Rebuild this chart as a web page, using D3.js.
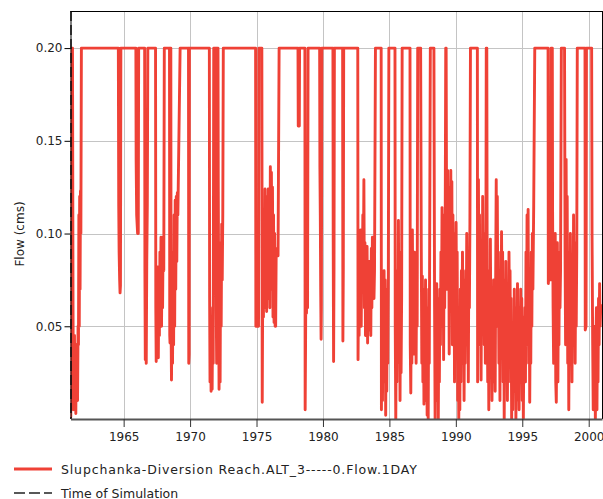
<!DOCTYPE html>
<html><head><meta charset="utf-8">
<script src="https://cdn.jsdelivr.net/npm/d3@7"></script>
<style>body{margin:0;background:#fff}svg{display:block}</style>
</head><body>
<svg id="c" width="603" height="499"></svg>
<script>
// ---- data (decimal year, flow in cms) ----
const xTicks = [1965,1970,1975,1980,1985,1990,1995,2000];
const yTicks = [0.05,0.10,0.15,0.20];
const simulationTime = 1961.0;
const seriesName = "Slupchanka-Diversion Reach.ALT_3-----0.Flow.1DAY";
const simName = "Time of Simulation";
const yLabel = "Flow (cms)";

const flow1960s = [
[1961.00,0.100],[1961.02,0.001],[1961.05,0.095],[1961.10,0.200],[1961.15,0.200],[1961.19,0.060],[1961.22,0.005],[1961.26,0.020],[1961.30,0.045],[1961.33,0.008],[1961.37,0.030],[1961.40,0.003],[1961.44,0.040],[1961.47,0.012],[1961.50,0.025],[1961.53,0.010],[1961.57,0.050],[1961.60,0.040],[1961.63,0.110],[1961.66,0.050],[1961.69,0.120],[1961.72,0.070],[1961.75,0.123],[1961.78,0.100],[1961.82,0.200],
[1964.60,0.200],[1964.63,0.115],[1964.66,0.090],[1964.70,0.075],[1964.73,0.068],[1964.76,0.072],[1964.79,0.200],
[1965.92,0.200],[1965.94,0.140],[1965.98,0.110],[1966.05,0.100],[1966.10,0.100],[1966.13,0.200],
[1966.58,0.200],[1966.60,0.080],[1966.63,0.032],[1966.66,0.060],[1966.70,0.030],[1966.74,0.085],[1966.78,0.115],[1966.82,0.200],
[1967.40,0.200],[1967.42,0.060],[1967.45,0.031],[1967.49,0.070],[1967.53,0.040],[1967.57,0.082],[1967.61,0.033],[1967.65,0.075],[1967.69,0.045],[1967.73,0.090],[1967.77,0.055],[1967.81,0.098],[1967.85,0.050],[1967.89,0.090],[1967.93,0.060],[1967.97,0.098],[1968.02,0.080],[1968.06,0.200],
[1968.45,0.200],[1968.47,0.045],[1968.49,0.041],[1968.52,0.200],[1968.55,0.200],[1968.57,0.050],[1968.60,0.021],[1968.64,0.060],[1968.68,0.030],[1968.72,0.090],[1968.76,0.040],[1968.80,0.110],[1968.84,0.050],[1968.88,0.118],[1968.92,0.070],[1968.96,0.120],[1969.00,0.085],[1969.04,0.122],[1969.08,0.110],[1969.25,0.200],
[1969.88,0.200],[1969.90,0.030],[1969.93,0.035],[1969.95,0.200]
];
const flow1970s = [
[1971.45,0.200],[1971.47,0.066],[1971.50,0.020],[1971.54,0.055],[1971.58,0.015],[1971.62,0.045],[1971.66,0.016],[1971.70,0.060],[1971.74,0.030],[1971.78,0.200],
[1971.95,0.200],[1971.97,0.060],[1972.00,0.030],[1972.03,0.200],[1972.10,0.200],[1972.12,0.127],[1972.15,0.070],[1972.18,0.016],[1972.22,0.080],[1972.26,0.020],[1972.30,0.095],[1972.34,0.050],[1972.38,0.105],[1972.42,0.075],[1972.46,0.110],[1972.50,0.200],
[1974.93,0.200],[1974.95,0.050],[1975.15,0.050],[1975.18,0.200],
[1975.40,0.200],[1975.43,0.009],[1975.46,0.060],[1975.49,0.080],[1975.52,0.055],[1975.56,0.110],[1975.60,0.060],[1975.64,0.124],[1975.68,0.070],[1975.72,0.120],[1975.76,0.058],[1975.80,0.105],[1975.84,0.065],[1975.88,0.124],[1975.92,0.075],[1975.96,0.115],[1976.00,0.060],[1976.04,0.136],[1976.08,0.080],[1976.12,0.133],[1976.16,0.070],[1976.20,0.125],[1976.24,0.055],[1976.28,0.110],[1976.32,0.052],[1976.36,0.100],[1976.40,0.050],[1976.44,0.050],[1976.48,0.090],[1976.55,0.092],[1976.62,0.088],[1976.70,0.200],
[1978.12,0.200],[1978.14,0.158],[1978.22,0.158],[1978.24,0.200],
[1978.64,0.200],[1978.66,0.005],[1978.69,0.040],[1978.72,0.092],[1978.76,0.057],[1978.80,0.085],[1978.84,0.060],[1978.88,0.200],
[1979.75,0.200],[1979.77,0.136],[1979.80,0.110],[1979.83,0.070],[1979.86,0.043],[1979.88,0.060],[1979.92,0.200]
];
const flow1980s = [
[1980.75,0.200],[1980.77,0.100],[1980.80,0.031],[1980.83,0.080],[1980.86,0.200],
[1981.48,0.200],[1981.50,0.042],[1981.53,0.080],[1981.56,0.200],
[1982.62,0.200],[1982.64,0.032],[1982.68,0.070],[1982.72,0.045],[1982.76,0.100],[1982.80,0.060],[1982.84,0.102],[1982.88,0.050],[1982.92,0.095],[1982.96,0.070],[1983.00,0.110],[1983.04,0.080],[1983.08,0.129],[1983.12,0.060],[1983.16,0.095],[1983.20,0.045],[1983.24,0.090],[1983.28,0.055],[1983.32,0.093],[1983.36,0.041],[1983.40,0.080],[1983.44,0.048],[1983.48,0.085],[1983.52,0.050],[1983.56,0.075],[1983.60,0.045],[1983.64,0.092],[1983.68,0.060],[1983.72,0.098],[1983.76,0.070],[1983.80,0.090],[1983.84,0.065],[1983.88,0.080],[1983.95,0.200],
[1984.38,0.200],[1984.40,0.005],[1984.44,0.060],[1984.48,0.010],[1984.52,0.073],[1984.56,0.020],[1984.60,0.080],[1984.64,0.030],[1984.68,0.075],[1984.72,0.002],[1984.76,0.060],[1984.80,0.015],[1984.84,0.070],[1984.88,0.030],[1984.92,0.078],[1984.96,0.200],
[1985.42,0.200],[1985.44,0.050],[1985.48,0.000],[1985.52,0.060],[1985.56,0.020],[1985.60,0.080],[1985.64,0.030],[1985.68,0.107],[1985.72,0.040],[1985.76,0.090],[1985.80,0.010],[1985.84,0.070],[1985.88,0.025],[1985.92,0.065],[1985.96,0.200],
[1986.55,0.200],[1986.57,0.040],[1986.61,0.014],[1986.65,0.070],[1986.69,0.030],[1986.73,0.102],[1986.77,0.050],[1986.81,0.085],[1986.85,0.035],[1986.89,0.090],[1986.93,0.055],[1986.97,0.075],[1987.01,0.030],[1987.05,0.080],[1987.09,0.050],[1987.13,0.200],[1987.33,0.200],
[1987.35,0.200],[1987.40,0.090],[1987.44,0.030],[1987.48,0.077],[1987.52,0.020],[1987.56,0.070],[1987.60,0.008],[1987.64,0.060],[1987.68,0.025],[1987.72,0.075],[1987.76,0.010],[1987.80,0.060],[1987.84,0.002],[1987.88,0.050],[1987.92,0.000],[1987.96,0.070],[1988.00,0.030],[1988.08,0.200],[1988.35,0.200],[1988.40,0.060],[1988.44,0.000],[1988.48,0.070],[1988.52,0.010],[1988.56,0.073],[1988.60,0.030],[1988.64,0.065],[1988.68,0.000],[1988.72,0.055],[1988.76,0.020],[1988.80,0.070],[1988.84,0.040],[1988.88,0.090],[1988.92,0.050],[1988.96,0.114],[1989.00,0.070],[1989.04,0.110],[1989.08,0.032],[1989.12,0.100],[1989.16,0.060],[1989.20,0.105],[1989.24,0.200],[1989.27,0.200],[1989.30,0.120],[1989.34,0.070],[1989.38,0.134],[1989.42,0.080],[1989.46,0.125],[1989.50,0.035],[1989.54,0.110],[1989.58,0.090],[1989.62,0.134],[1989.66,0.070],[1989.70,0.128],[1989.74,0.040],[1989.78,0.110],[1989.82,0.060],[1989.86,0.100],[1989.90,0.020],[1989.94,0.080],[1989.98,0.045]
];
const flow1990s = [
[1990.02,0.106],[1990.06,0.050],[1990.10,0.090],[1990.14,0.010],[1990.18,0.060],[1990.22,0.000],[1990.26,0.040],[1990.30,0.005],[1990.34,0.070],[1990.38,0.020],[1990.42,0.080],[1990.46,0.030],[1990.50,0.090],[1990.54,0.040],[1990.58,0.075],[1990.62,0.010],[1990.66,0.065],[1990.70,0.030],[1990.74,0.080],[1990.78,0.040],[1990.82,0.100],[1990.86,0.050],[1990.90,0.085],[1990.94,0.020],[1990.98,0.090],[1991.02,0.060],[1991.06,0.106],[1991.10,0.200],[1991.62,0.200],[1991.64,0.020],
[1991.70,0.129],[1991.74,0.060],[1991.78,0.110],[1991.82,0.040],[1991.86,0.090],[1991.90,0.021],[1991.94,0.080],[1991.98,0.050],[1992.02,0.120],[1992.06,0.070],[1992.10,0.100],[1992.14,0.040],[1992.18,0.085],[1992.22,0.030],[1992.26,0.080],[1992.29,0.200],[1992.33,0.200],[1992.36,0.070],
[1992.40,0.020],[1992.44,0.080],[1992.48,0.005],[1992.52,0.060],[1992.56,0.025],[1992.60,0.097],[1992.64,0.040],[1992.68,0.070],[1992.72,0.010],[1992.76,0.050],[1992.80,0.020],[1992.84,0.075],[1992.88,0.035],[1992.92,0.065],[1992.96,0.015],[1993.00,0.080],
[1993.04,0.129],[1993.08,0.050],[1993.12,0.120],[1993.16,0.060],[1993.20,0.090],[1993.24,0.030],
[1993.28,0.070],[1993.32,0.010],[1993.36,0.080],[1993.40,0.040],[1993.44,0.101],[1993.48,0.050],[1993.52,0.090],[1993.56,0.020],[1993.60,0.075],[1993.64,0.000],[1993.68,0.060],[1993.72,0.030],[1993.76,0.085],[1993.80,0.045],[1993.84,0.070],[1993.88,0.010],[1993.92,0.055],[1993.96,0.020],[1994.00,0.090],[1994.04,0.050],[1994.08,0.080],[1994.12,0.030],[1994.16,0.065],[1994.20,0.000],[1994.24,0.040],[1994.28,0.005],[1994.32,0.050],[1994.36,0.015],[1994.40,0.070],[1994.44,0.030],[1994.48,0.060],[1994.52,0.000],[1994.56,0.045],[1994.60,0.010],[1994.64,0.073],[1994.68,0.030],[1994.72,0.060],[1994.76,0.005],[1994.80,0.050],[1994.84,0.020],[1994.88,0.070],[1994.92,0.040],[1994.96,0.065],[1995.00,0.010],[1995.04,0.055],[1995.08,0.000],[1995.12,0.040],[1995.16,0.020],
[1995.20,0.060],[1995.24,0.020],[1995.28,0.090],[1995.32,0.040],[1995.36,0.110],[1995.40,0.050],[1995.44,0.113],[1995.48,0.030],[1995.52,0.080],[1995.56,0.009],[1995.60,0.060],[1995.64,0.030],[1995.68,0.090],[1995.72,0.050],[1995.76,0.100],[1995.80,0.070],[1995.86,0.115],[1995.94,0.200],
[1996.94,0.200],[1996.96,0.073],[1997.02,0.080],[1997.14,0.075],[1997.17,0.200],
[1997.26,0.200],[1997.28,0.113],[1997.32,0.060],[1997.36,0.030],[1997.40,0.080],[1997.44,0.040],[1997.48,0.100],[1997.52,0.020],[1997.56,0.009],[1997.60,0.050],[1997.64,0.095],[1997.68,0.020],[1997.72,0.070],[1997.76,0.040],[1997.80,0.090],[1997.84,0.060],[1997.88,0.080],[1997.94,0.200],[1998.18,0.200],[1998.22,0.090],
[1998.26,0.040],[1998.30,0.140],[1998.34,0.060],[1998.38,0.120],[1998.42,0.030],[1998.46,0.090],[1998.50,0.005],[1998.54,0.070],[1998.58,0.030],[1998.62,0.100],[1998.66,0.050],[1998.70,0.085],[1998.74,0.020],[1998.78,0.075],[1998.82,0.040],[1998.86,0.110],[1998.90,0.060],[1998.94,0.095],[1998.98,0.030],[1999.02,0.080],[1999.06,0.050],[1999.10,0.090],[1999.14,0.200],
[1999.72,0.200],[1999.74,0.048],[1999.80,0.050],[1999.83,0.200],[2000.22,0.200],
[2000.25,0.100],[2000.30,0.040],[2000.34,0.005],[2000.38,0.030],[2000.42,0.010],[2000.46,0.050],[2000.50,0.000],[2000.54,0.040],
[2000.58,0.060],[2000.62,0.005],[2000.66,0.050],[2000.70,0.020],[2000.74,0.065],[2000.78,0.040],[2000.82,0.073],[2000.86,0.050],[2000.90,0.060],[2000.96,0.062]
];

const flow = [].concat(flow1960s, flow1970s, flow1980s, flow1990s);

// ---- layout ----
const L = 70.5, R = 602, T = 11, B = 419;
const FONT = "DejaVu Sans, Verdana, sans-serif";
const RED = "#ef4136";

const svg = d3.select("#c");
const x = d3.scaleLinear().domain([1961.0, 2001.0]).range([L, R]);
const y = d3.scaleLinear().domain([0, 0.22]).range([B, T]);

// grid
const g = svg.append("g");
g.selectAll("line.vg").data(xTicks).join("line")
  .attr("x1", d => Math.round(x(d)) + 0.5).attr("x2", d => Math.round(x(d)) + 0.5)
  .attr("y1", T).attr("y2", B).attr("stroke", "#c4c4c4").attr("stroke-width", 1);
g.selectAll("line.hg").data(yTicks).join("line")
  .attr("x1", L).attr("x2", R)
  .attr("y1", d => Math.round(y(d)) + 0.5).attr("y2", d => Math.round(y(d)) + 0.5)
  .attr("stroke", "#c4c4c4").attr("stroke-width", 1);

// clip
svg.append("clipPath").attr("id", "clip").append("rect")
  .attr("x", L).attr("y", T - 2).attr("width", R - L).attr("height", B - T + 2);

// series
svg.append("path").datum(flow)
  .attr("clip-path", "url(#clip)")
  .attr("fill", "none").attr("stroke", RED).attr("stroke-width", 2.9)
  .attr("stroke-linejoin", "round")
  .attr("d", d3.line().x(d => x(d[0])).y(d => y(d[1])));

// time of simulation
svg.append("line")
  .attr("x1", x(simulationTime) + 0.5).attr("x2", x(simulationTime) + 0.5)
  .attr("y1", T).attr("y2", B)
  .attr("stroke", "#222").attr("stroke-width", 1.5).attr("stroke-dasharray", "10,4");

// frame
svg.append("line").attr("x1", L).attr("x2", R).attr("y1", T + 0.5).attr("y2", T + 0.5).attr("stroke", "#000");
svg.append("line").attr("x1", R + 0.5).attr("x2", R + 0.5).attr("y1", T).attr("y2", B).attr("stroke", "#000");

// axes
const yAxis = svg.append("g").attr("transform", `translate(${L},0)`)
  .call(d3.axisLeft(y).tickValues(yTicks).tickFormat(d3.format(".2f")).tickSize(6).tickSizeOuter(0));
yAxis.select(".domain").attr("stroke", "#000").attr("d", `M0.5,${T}V${B}`);
yAxis.selectAll(".tick line").attr("stroke", "#000");
yAxis.selectAll("text").attr("font-family", FONT).attr("font-size", 12).attr("fill", "#222").attr("x", -8);

const xAxis = svg.append("g").attr("transform", `translate(0,${B})`)
  .call(d3.axisBottom(x).tickValues(xTicks).tickFormat(d3.format("d")).tickSize(8).tickSizeOuter(0));
xAxis.select(".domain").attr("stroke", "#555").attr("stroke-width", 2);
xAxis.selectAll(".tick line").attr("stroke", "#333");
xAxis.selectAll("text").attr("font-family", FONT).attr("font-size", 12).attr("fill", "#222").attr("y", 13);

// y label
svg.append("text").attr("transform", `translate(24,${234}) rotate(-90)`)
  .attr("text-anchor", "middle").attr("font-family", FONT).attr("font-size", 12).attr("fill", "#222")
  .text(yLabel);

// legend
const leg = svg.append("g");
leg.append("line").attr("x1", 14).attr("x2", 52).attr("y1", 469).attr("y2", 469)
  .attr("stroke", RED).attr("stroke-width", 2.9);
leg.append("text").attr("x", 61).attr("y", 473.5).attr("font-family", FONT).attr("font-size", 12.5).attr("fill", "#222")
  .style("letter-spacing", "0.85px").text(seriesName);
leg.append("line").attr("x1", 14).attr("x2", 52).attr("y1", 493).attr("y2", 493)
  .attr("stroke", "#222").attr("stroke-width", 1.5).attr("stroke-dasharray", "11,4");
leg.append("text").attr("x", 61).attr("y", 497.5).attr("font-family", FONT).attr("font-size", 12.5).attr("fill", "#222").text(simName);
</script>
</body></html>
